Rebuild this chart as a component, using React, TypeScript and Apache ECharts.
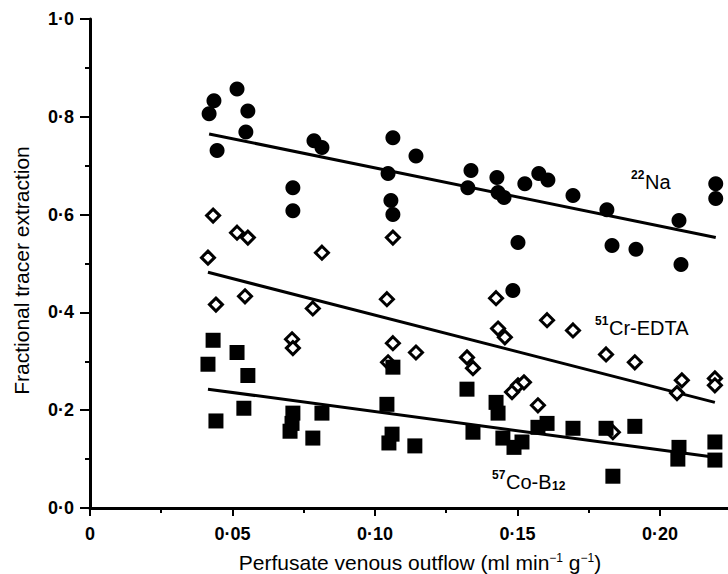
import React, { useEffect, useRef } from "react";
import * as echarts from "echarts";

const FONT = '"Liberation Sans", Arial, Helvetica, sans-serif';

// Perfusate venous outflow (ml min-1 g-1) vs fractional tracer extraction
const naPoints: number[][] = [
  [0.0418, 0.806], [0.0435, 0.833], [0.0516, 0.857], [0.0554, 0.812], [0.0547, 0.769],
  [0.0446, 0.731], [0.0712, 0.655], [0.0712, 0.608], [0.0786, 0.751], [0.0814, 0.737],
  [0.1063, 0.757], [0.1144, 0.72], [0.1046, 0.684], [0.1056, 0.629], [0.1063, 0.6],
  [0.1337, 0.69], [0.1326, 0.655], [0.1428, 0.676], [0.1432, 0.645], [0.1453, 0.635],
  [0.1484, 0.445], [0.1502, 0.543], [0.1526, 0.663], [0.1575, 0.684], [0.1607, 0.671],
  [0.1695, 0.639], [0.1814, 0.61], [0.1832, 0.537], [0.1916, 0.529], [0.2067, 0.588],
  [0.2074, 0.498], [0.2196, 0.663], [0.2196, 0.633],
];

const crPoints: number[][] = [
  [0.0432, 0.598], [0.0516, 0.563], [0.0554, 0.553], [0.0414, 0.512], [0.0814, 0.522],
  [0.1063, 0.553], [0.0442, 0.416], [0.0544, 0.433], [0.0782, 0.408], [0.1042, 0.427],
  [0.0709, 0.345], [0.0712, 0.327], [0.1063, 0.337], [0.1144, 0.318], [0.1046, 0.298],
  [0.1425, 0.429], [0.1432, 0.367], [0.1456, 0.349], [0.1323, 0.308], [0.1344, 0.286],
  [0.1604, 0.384], [0.1695, 0.363], [0.1811, 0.314], [0.1912, 0.298], [0.2077, 0.261],
  [0.206, 0.235], [0.2193, 0.265], [0.2193, 0.251], [0.1481, 0.237], [0.1502, 0.251],
  [0.1523, 0.257], [0.1572, 0.21], [0.1835, 0.155],
];

const coPoints: number[][] = [
  [0.0432, 0.343], [0.0516, 0.318], [0.0414, 0.294], [0.0554, 0.271], [0.054, 0.204],
  [0.0442, 0.178], [0.0712, 0.194], [0.0709, 0.173], [0.0702, 0.157], [0.0814, 0.194],
  [0.0782, 0.143], [0.1042, 0.212], [0.1063, 0.288], [0.106, 0.151], [0.1049, 0.133],
  [0.114, 0.127], [0.1323, 0.243], [0.1425, 0.216], [0.1432, 0.194], [0.1344, 0.155],
  [0.1449, 0.143], [0.1488, 0.124], [0.1516, 0.135], [0.1572, 0.165], [0.1604, 0.173],
  [0.1695, 0.163], [0.1811, 0.163], [0.1912, 0.167], [0.1835, 0.065], [0.2067, 0.124],
  [0.2063, 0.1], [0.2193, 0.135], [0.2193, 0.098],
];

// regression lines (end points)
const naFit: number[][] = [[0.0418, 0.765], [0.2196, 0.553]];
const crFit: number[][] = [[0.0414, 0.482], [0.2193, 0.216]];
const coFit: number[][] = [[0.0414, 0.243], [0.2193, 0.104]];

const xMajorTicks = [0, 0.05, 0.1, 0.15, 0.2];
const xMinorTicks = [0.025, 0.075, 0.125, 0.175];
const X_MAX = 0.2239;

const fmtX = (v: number) => (v === 0 ? "0" : v.toFixed(2).replace(".", "·"));
const fmtY = (v: number) => v.toFixed(1).replace(".", "·");

function supLabel(x: number, y: number, sup: string, main: string, sub?: string) {
  const els: any[] = [
    {
      type: "text", x, y: y - 7,
      style: { text: sup, font: `bold 12px ${FONT}`, fill: "#000", align: "left", verticalAlign: "middle" },
    },
    {
      type: "text", x: x + 14, y,
      style: { text: main, font: `20px ${FONT}`, fill: "#000", align: "left", verticalAlign: "middle" },
    },
  ];
  if (sub) {
    els.push({
      type: "text", x: x + 14 + 46, y: y + 4,
      style: { text: sub, font: `bold 12px ${FONT}`, fill: "#000", align: "left", verticalAlign: "middle" },
    });
  }
  return els;
}

export default function App() {
  const ref = useRef<HTMLDivElement>(null);
  useEffect(() => {
    document.body.style.margin = "0";
    const chart = echarts.init(ref.current!, null, { renderer: "svg" });
    const fitStyle = { color: "#000", width: 3 };
    chart.setOption({
      animation: false,
      backgroundColor: "#fff",
      grid: { left: 90, top: 19, right: 0, bottom: 66, containLabel: false, outerBoundsMode: "none" },
      xAxis: [
        {
          type: "value", min: 0, max: X_MAX, position: "bottom",
          name: "Perfusate venous outflow (ml min{sup|−1} g{sup|−1})",
          nameLocation: "middle", nameGap: 44,
          nameTextStyle: {
            fontFamily: FONT, fontSize: 21, color: "#000", padding: [0, 0, 0, 22],
            rich: { sup: { fontFamily: FONT, fontSize: 12, color: "#000", verticalAlign: "top" } },
          },
          axisLine: { show: true, onZero: false, lineStyle: { color: "#000", width: 3 } },
          axisTick: { show: true, customValues: xMajorTicks, length: 8, lineStyle: { color: "#000", width: 2 } },
          axisLabel: {
            customValues: xMajorTicks, formatter: fmtX, fontFamily: FONT, fontSize: 18,
            fontWeight: "bold", color: "#000", margin: 17,
          },
          splitLine: { show: false },
        },
        {
          type: "value", min: 0, max: X_MAX, position: "bottom",
          axisLine: { show: false },
          axisTick: { show: true, customValues: xMinorTicks, length: 5, lineStyle: { color: "#000", width: 2 } },
          axisLabel: { show: false },
          splitLine: { show: false },
        },
      ],
      yAxis: {
        type: "value", min: 0, max: 1, interval: 0.2,
        name: "Fractional tracer extraction", nameLocation: "middle", nameGap: 58, nameRotate: 90,
        nameTextStyle: { fontFamily: FONT, fontSize: 21, color: "#000", padding: [0, 14, 0, 0] },
        axisLine: { show: true, lineStyle: { color: "#000", width: 3 } },
        axisTick: { show: true, length: 10, lineStyle: { color: "#000", width: 2 } },
        minorTick: { show: true, splitNumber: 2, length: 5, lineStyle: { color: "#000", width: 2 } },
        axisLabel: { formatter: fmtY, fontFamily: FONT, fontSize: 18, fontWeight: "bold", color: "#000", margin: 16 },
        splitLine: { show: false },
        minorSplitLine: { show: false },
      },
      series: [
        { type: "line", data: naFit, symbol: "none", lineStyle: fitStyle, silent: true, z: 1 },
        { type: "line", data: crFit, symbol: "none", lineStyle: fitStyle, silent: true, z: 1 },
        { type: "line", data: coFit, symbol: "none", lineStyle: fitStyle, silent: true, z: 1 },
        {
          type: "scatter", name: "22Na", data: naPoints, symbol: "circle", symbolSize: 15,
          itemStyle: { color: "#000", opacity: 1 }, silent: true, z: 2,
        },
        {
          type: "scatter", name: "51Cr-EDTA", data: crPoints, symbol: "diamond", symbolSize: 13,
          itemStyle: { color: "#fff", borderColor: "#000", borderWidth: 3, opacity: 1 }, silent: true, z: 2,
        },
        {
          type: "scatter", name: "57Co-B12", data: coPoints, symbol: "rect", symbolSize: 15,
          itemStyle: { color: "#000", opacity: 1 }, silent: true, z: 3,
        },
      ],
      graphic: [
        ...supLabel(631, 182, "22", "Na"),
        ...supLabel(595, 328, "51", "Cr-EDTA"),
        ...supLabel(492, 482, "57", "Co-B", "12"),
      ],
    });
    return () => chart.dispose();
  }, []);
  return <div ref={ref} style={{ width: 728, height: 574 }} />;
}
